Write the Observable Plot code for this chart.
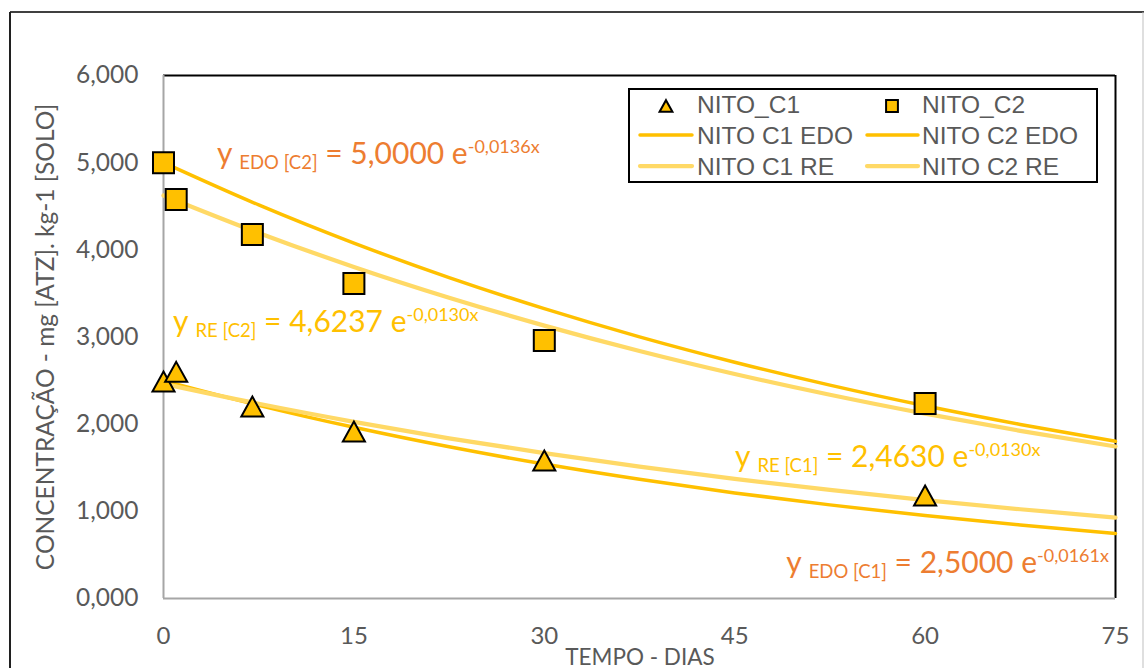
<!DOCTYPE html>
<html>
<head>
<meta charset="utf-8">
<script src="https://cdn.jsdelivr.net/npm/d3@7"></script>
<script src="https://cdn.jsdelivr.net/npm/@observablehq/plot@0.6"></script>
<style>
  body { margin: 0; background: #fff; }
  text { white-space: pre; }
</style>
</head>
<body>
<div id="chart"></div>
<script>
// Measured nitrogen concentration (mg ATZ per kg of soil) by day
const days   = [0, 1, 7, 15, 30, 60];
const nitoC1 = [2.489, 2.600, 2.203, 1.916, 1.583, 1.182];
const nitoC2 = [5.000, 4.577, 4.176, 3.614, 2.960, 2.237];

// Fitted decay curves (EDO and RE models), sampled every 7.5 days
const curveDays = [0, 7.5, 15, 22.5, 30, 37.5, 45, 52.5, 60, 67.5, 75];
const c1Edo = [2.500, 2.216, 1.964, 1.740, 1.542, 1.367, 1.211, 1.074, 0.951, 0.843, 0.747];
const c2Edo = [5.000, 4.515, 4.077, 3.682, 3.325, 3.002, 2.711, 2.448, 2.211, 1.997, 1.803];
const c1Re  = [2.463, 2.234, 2.027, 1.838, 1.668, 1.513, 1.372, 1.245, 1.129, 1.024, 0.929];
const c2Re  = [4.624, 4.194, 3.804, 3.451, 3.131, 2.840, 2.576, 2.337, 2.120, 1.923, 1.744];

// Axis ticks
const xTicks = [0, 15, 30, 45, 60, 75];
const yTicks = [0, 1, 2, 3, 4, 5, 6];

// Equation texts: model subscript, coefficient, exponent
const eqSubs  = ["EDO [C2]", "RE [C2]", "RE [C1]", "EDO [C1]"];
const eqCoefs = ["5,0000", "4,6237", "2,4630", "2,5000"];
const eqExps  = ["-0,0136x", "-0,0130x", "-0,0130x", "-0,0161x"];

// Legend labels
const legendLabels = ["NITO_C1", "NITO_C2", "NITO C1 EDO", "NITO C2 EDO", "NITO C1 RE", "NITO C2 RE"];

const GOLD = "#FFC000", LIGHT = "#FFD966", ORANGE = "#ED7D31", GREY = "#595959";

// Marker shapes centred on their bounding box
const squareSym = {draw(ctx, size) { const s = Math.sqrt(size); ctx.rect(-s / 2, -s / 2, s, s); }};
const triSym = {draw(ctx, size) {
  const s = Math.sqrt(size), w = s * 1.05, h = s * 0.95;
  ctx.moveTo(0, -h / 2); ctx.lineTo(w / 2, h / 2); ctx.lineTo(-w / 2, h / 2); ctx.closePath();
}};

const pairs = (xs, ys) => xs.map((x, i) => [x, ys[i]]);
const fmt = d => d.toFixed(3).replace(".", ",");

const plot = Plot.plot({
  width: 1144,
  height: 668,
  marginLeft: 163,
  marginRight: 29,
  marginTop: 75,
  marginBottom: 70,
  x: {domain: [0, 75]},
  y: {domain: [0, 6]},
  style: {fontFamily: "Lato", color: GREY, background: "white", overflow: "visible"},
  marks: [
    Plot.axisY({ticks: yTicks, tickSize: 0, tickPadding: 25, tickFormat: fmt, fontSize: 24.5, label: null, fill: GREY}),
    Plot.axisX({ticks: xTicks, tickSize: 0, tickPadding: 28, fontSize: 24, label: null, fill: GREY}),
    // plot area outline
    Plot.ruleY([6], {stroke: "black", strokeWidth: 2}),
    Plot.ruleX([75], {stroke: "black", strokeWidth: 2}),
    Plot.ruleX([0], {stroke: "#a6a6a6", strokeWidth: 2}),
    Plot.ruleY([0], {stroke: "#a6a6a6", strokeWidth: 2}),
    // fitted curves
    Plot.line(pairs(curveDays, c1Edo), {stroke: GOLD, strokeWidth: 3.5, curve: "monotone-x"}),
    Plot.line(pairs(curveDays, c2Edo), {stroke: GOLD, strokeWidth: 3.5, curve: "monotone-x"}),
    Plot.line(pairs(curveDays, c1Re), {stroke: LIGHT, strokeWidth: 4.25, curve: "monotone-x"}),
    Plot.line(pairs(curveDays, c2Re), {stroke: LIGHT, strokeWidth: 4.25, curve: "monotone-x"}),
    // measurements
    Plot.dot(pairs(days, nitoC1), {symbol: triSym, r: 11.85, fill: GOLD, stroke: "black", strokeWidth: 2}),
    Plot.dot(pairs(days, nitoC2), {symbol: squareSym, r: 11.85, fill: GOLD, stroke: "black", strokeWidth: 2})
  ]
});

document.getElementById("chart").appendChild(plot);

const svg = d3.select(plot);
const sx = plot.scale("x"), sy = plot.scale("y");

// outer chart border
svg.append("line").attr("x1", 10).attr("x2", 1144).attr("y1", 12).attr("y2", 12).attr("stroke", "#404040").attr("stroke-width", 2);
svg.append("line").attr("x1", 10).attr("x2", 10).attr("y1", 12).attr("y2", 668).attr("stroke", "#202020").attr("stroke-width", 2);
svg.append("line").attr("x1", 1143).attr("x2", 1143).attr("y1", 12).attr("y2", 668).attr("stroke", "#bfbfbf").attr("stroke-width", 1);

// axis titles
svg.append("text")
  .attr("transform", "translate(45,337) rotate(-90)")
  .attr("text-anchor", "middle").attr("dy", "0.35em")
  .attr("font-family", "Lato").attr("font-size", 24.5).attr("fill", GREY)
  .text("CONCENTRAÇÃO - mg [ATZ]. kg-1 [SOLO]");
svg.append("text")
  .attr("x", 640).attr("y", 665)
  .attr("text-anchor", "middle")
  .attr("font-family", "Lato").attr("font-size", 22.5).attr("fill", GREY)
  .text("TEMPO - DIAS");

// equation labels, anchored in data coordinates
const eqAnchors = [[4.25, 4.979], [0.79, 3.051], [45.06, 1.503], [49.1, 0.287]];
const eqColors = [ORANGE, GOLD, GOLD, ORANGE];
eqSubs.forEach((sub, i) => {
  const [ax, ay] = eqAnchors[i];
  const t = svg.append("text")
    .attr("x", sx.apply(ax)).attr("y", sy.apply(ay))
    .attr("text-anchor", "start")
    .attr("font-family", "Lato").attr("font-size", 30).attr("fill", eqColors[i]);
  t.append("tspan").text("y ");
  t.append("tspan").attr("font-size", 18.5).attr("dy", 5).text(sub);
  t.append("tspan").attr("dy", -5).text(" = " + eqCoefs[i] + " e");
  t.append("tspan").attr("font-size", 18).attr("dy", -11).text(eqExps[i]);
});

// legend
const lg = svg.append("g").attr("font-family", "Liberation Sans, Arial, sans-serif")
  .attr("font-size", 24.5).attr("fill", GREY).attr("text-anchor", "start");
lg.append("rect").attr("x", 629).attr("y", 89).attr("width", 468).attr("height", 93)
  .attr("fill", "white").attr("stroke", "black").attr("stroke-width", 2);
const rowsY = [104, 135, 166];
const colX = [[640, 692, 697], [867, 918, 922]];
legendLabels.forEach((label, i) => {
  const row = Math.floor(i / 2), col = i % 2;
  const [l0, l1, tx] = colX[col];
  const cy = rowsY[row];
  if (row === 0) {
    const sym = col === 0 ? triSym : squareSym;
    const size = col === 0 ? 150 : 140;
    lg.append("path").attr("d", d3.symbol(sym, size)())
      .attr("transform", `translate(${col === 0 ? 666 : 892},${cy + 2})`)
      .attr("fill", GOLD).attr("stroke", "black").attr("stroke-width", 2);
  } else {
    lg.append("line").attr("x1", l0).attr("x2", l1).attr("y1", cy).attr("y2", cy)
      .attr("stroke", row === 1 ? GOLD : LIGHT).attr("stroke-width", row === 1 ? 3.5 : 4.25)
      .attr("stroke-linecap", "round");
  }
  lg.append("text").attr("x", tx).attr("y", cy).attr("dy", "0.36em").text(label);
});
</script>
</body>
</html>
